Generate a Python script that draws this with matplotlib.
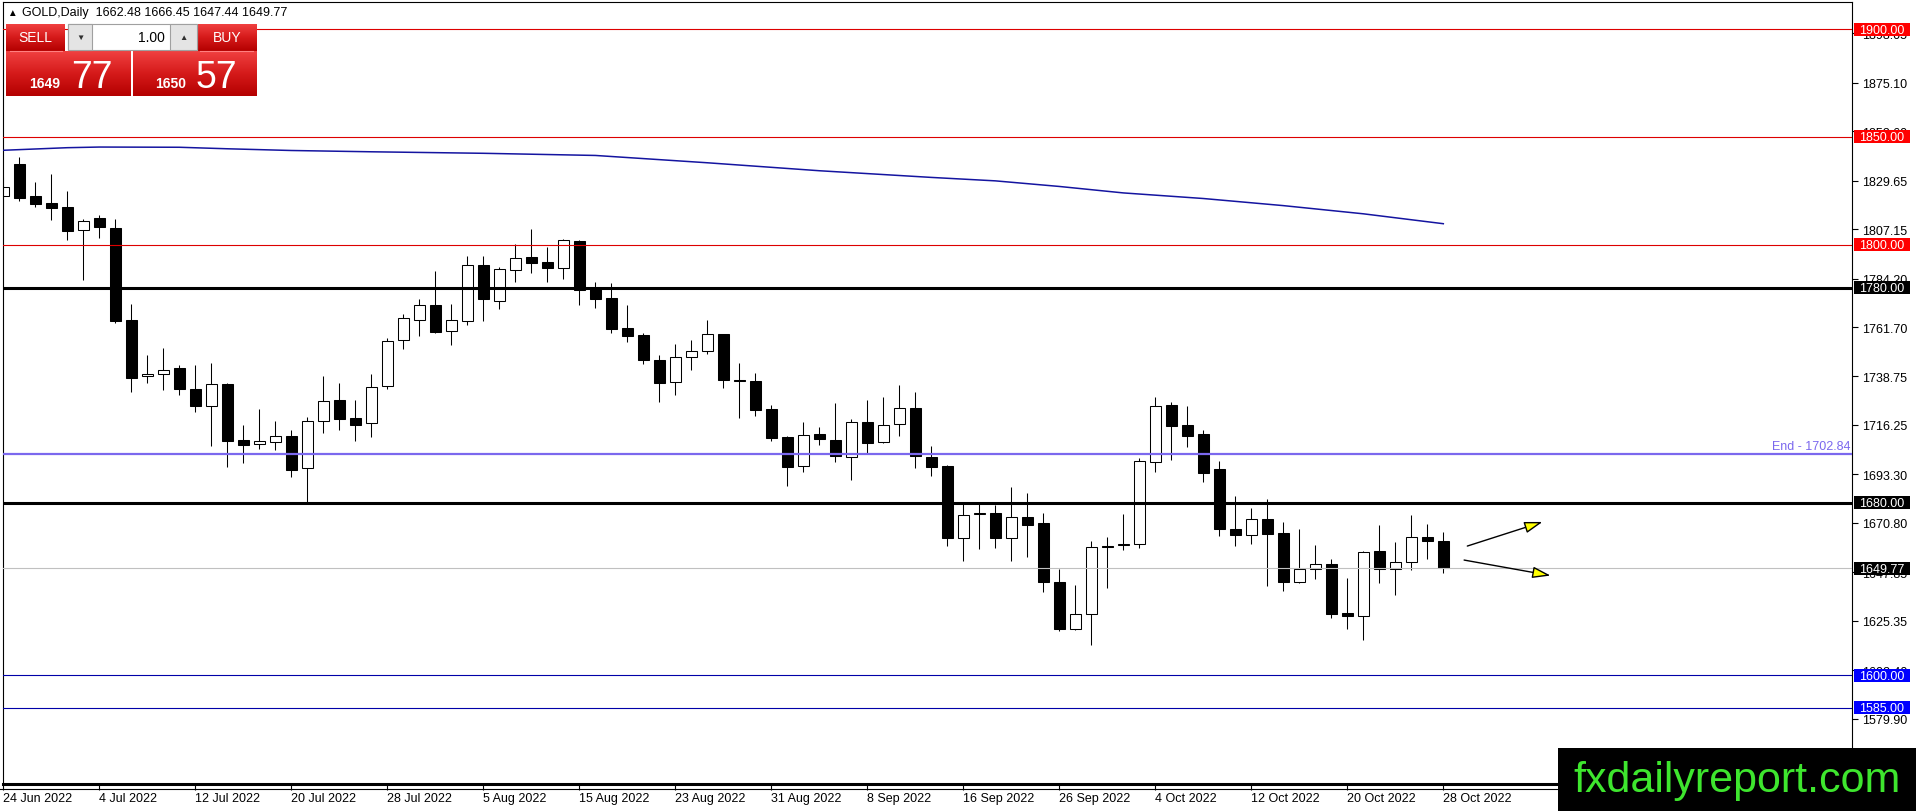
import numpy as np
import pandas as pd
import matplotlib.pyplot as plt
from matplotlib.patches import Rectangle
from matplotlib.colors import LinearSegmentedColormap
import matplotlib.transforms as mtransforms

plt.rcParams['font.family'] = ['Liberation Sans', 'DejaVu Sans']

# daily GOLD candles, 24 Jun 2022 .. 28 Oct 2022
dates = pd.bdate_range('2022-06-24', '2022-10-28')
opens = [1822.4, 1837.4, 1822.4, 1819.3, 1817.3, 1806.6, 1812.4, 1807.7, 1765.0, 1738.8,
         1739.7, 1742.7, 1733.1, 1725.2, 1735.2, 1709.2, 1707.2, 1708.4, 1711.1, 1696.1,
         1717.9, 1727.7, 1719.3, 1717.0, 1734.2, 1755.5, 1764.8, 1771.9, 1760.0, 1764.7,
         1790.5, 1774.0, 1788.4, 1794.2, 1791.9, 1789.3, 1801.7, 1779.4, 1775.2, 1761.4,
         1758.0, 1746.4, 1736.0, 1747.6, 1750.7, 1758.5, 1736.9, 1736.6, 1723.6, 1710.6,
         1697.0, 1711.9, 1709.2, 1701.2, 1717.4, 1708.2, 1716.5, 1724.1, 1701.2, 1697.3,
         1663.9, 1675.0, 1675.2, 1663.9, 1673.5, 1670.7, 1643.3, 1621.6, 1628.3, 1659.7,
         1660.4, 1660.8, 1698.9, 1725.5, 1716.1, 1711.9, 1695.8, 1667.7, 1665.3, 1672.4,
         1666.0, 1643.4, 1649.2, 1651.5, 1628.7, 1627.3, 1657.7, 1649.2, 1652.4, 1664.0,
         1662.48]
highs = [1831.2, 1840.5, 1828.9, 1832.8, 1824.7, 1811.9, 1813.6, 1811.9, 1772.4, 1748.7,
         1752.0, 1744.1, 1744.1, 1745.0, 1735.7, 1716.2, 1723.6, 1718.1, 1713.9, 1719.8,
         1739.1, 1735.7, 1727.8, 1739.9, 1756.6, 1767.8, 1774.7, 1787.9, 1772.4, 1794.9,
         1794.9, 1789.7, 1800.3, 1807.2, 1798.9, 1802.6, 1802.0, 1782.8, 1782.2, 1771.9,
         1758.9, 1748.7, 1753.8, 1755.7, 1765.0, 1758.5, 1745.0, 1740.4, 1725.6, 1711.2,
         1717.4, 1715.3, 1726.4, 1719.0, 1727.8, 1729.2, 1734.8, 1731.4, 1706.6, 1697.6,
         1680.0, 1680.0, 1679.0, 1687.6, 1684.6, 1675.3, 1649.3, 1641.9, 1662.2, 1664.0,
         1674.9, 1700.7, 1729.1, 1727.0, 1724.9, 1714.0, 1699.3, 1683.1, 1677.5, 1681.8,
         1671.0, 1667.9, 1660.5, 1654.0, 1645.1, 1657.7, 1669.8, 1662.0, 1674.4, 1670.2,
         1666.45]
lows = [1816.2, 1820.4, 1817.6, 1811.6, 1802.3, 1783.7, 1803.2, 1763.4, 1731.7, 1735.7,
        1732.6, 1730.3, 1722.4, 1706.6, 1696.9, 1698.4, 1705.0, 1704.7, 1691.9, 1680.3,
        1712.3, 1714.0, 1708.9, 1710.8, 1732.9, 1751.5, 1757.7, 1758.9, 1753.4, 1762.7,
        1764.7, 1770.1, 1782.8, 1787.0, 1782.8, 1784.0, 1771.9, 1770.6, 1759.1, 1754.9,
        1744.5, 1727.0, 1730.3, 1741.9, 1749.2, 1733.4, 1719.5, 1720.5, 1708.9, 1688.0,
        1694.2, 1707.1, 1699.2, 1690.8, 1703.2, 1708.0, 1711.2, 1696.4, 1692.7, 1659.8,
        1653.2, 1658.6, 1659.1, 1653.2, 1655.0, 1638.8, 1620.4, 1621.1, 1614.2, 1640.6,
        1658.3, 1658.9, 1694.5, 1699.8, 1706.1, 1689.9, 1664.8, 1660.2, 1660.8, 1641.6,
        1639.3, 1642.8, 1644.7, 1626.7, 1621.5, 1616.4, 1642.8, 1637.3, 1649.0, 1654.0,
        1647.44]
closes = [1826.6, 1821.8, 1819.0, 1817.1, 1806.5, 1810.8, 1808.3, 1764.7, 1738.2, 1739.8,
          1741.7, 1733.1, 1725.2, 1735.1, 1708.9, 1707.0, 1708.6, 1711.1, 1695.5, 1717.9,
          1727.2, 1719.0, 1716.4, 1733.7, 1755.1, 1765.9, 1771.8, 1759.6, 1765.0, 1790.5,
          1774.7, 1788.7, 1793.6, 1791.6, 1789.3, 1802.1, 1779.1, 1774.7, 1760.8, 1757.7,
          1746.4, 1735.9, 1747.6, 1750.4, 1758.5, 1737.3, 1736.6, 1723.3, 1710.3, 1696.8,
          1711.4, 1709.5, 1701.6, 1717.4, 1708.0, 1716.1, 1723.9, 1701.6, 1696.8, 1663.9,
          1674.2, 1675.2, 1663.9, 1673.3, 1669.9, 1643.4, 1621.6, 1628.3, 1659.4, 1659.5,
          1660.5, 1699.3, 1725.2, 1715.9, 1711.3, 1694.1, 1668.1, 1665.3, 1672.4, 1665.6,
          1643.5, 1649.3, 1651.5, 1628.4, 1627.3, 1657.2, 1649.2, 1652.4, 1664.0, 1662.5,
          1649.77]

# moving average (read at a few bars)
ma_idx = [0, 4, 6, 11, 14, 18, 23, 30, 37, 44, 51, 58, 62, 66, 70, 75, 80, 85, 90]
ma_val = [1843.8, 1845.0, 1845.3, 1845.2, 1844.5, 1843.7, 1843.1, 1842.4, 1841.4, 1838.0,
          1834.3, 1831.2, 1829.6, 1827.0, 1824.0, 1821.4, 1818.1, 1814.3, 1809.7]

red_levels = [1900, 1850, 1800]
black_levels = [1780, 1680]
blue_levels = [1600, 1585]
end_level = 1702.84
last_price = 1649.77

yticks = [1898.05, 1875.10, 1852.60, 1829.65, 1807.15, 1784.20, 1761.70, 1738.75,
          1716.25, 1693.30, 1670.80, 1647.85, 1625.35, 1602.40, 1579.90]
xtick_labels = ['24 Jun 2022', '4 Jul 2022', '12 Jul 2022', '20 Jul 2022', '28 Jul 2022',
                '5 Aug 2022', '15 Aug 2022', '23 Aug 2022', '31 Aug 2022', '8 Sep 2022',
                '16 Sep 2022', '26 Sep 2022', '4 Oct 2022', '12 Oct 2022', '20 Oct 2022',
                '28 Oct 2022']

arrow_up = [(91.5, 1660.0), (96.2, 1671.2)]
arrow_down = [(91.3, 1653.5), (96.7, 1646.3)]

W, H = 1916, 812
fig = plt.figure(figsize=(W / 100, H / 100), dpi=100, facecolor='white')
L, R, T, B = 2.7, 1852, 2.7, 785
ax = fig.add_axes([L / W, 1 - B / H, (R - L) / W, (B - T) / H])
ymin, ymax = 1549.5, 1912.8
x = np.arange(len(dates))

# candles
o = np.array(opens); c = np.array(closes)
ax.vlines(x, lows, highs, color='black', lw=0.75, zorder=2)
bull = c >= o
body = np.maximum(np.abs(c - o), 0.35)
ax.bar(x, body, bottom=np.minimum(o, c), width=0.66,
       color=np.where(bull, 'white', 'black'), edgecolor='black', lw=0.75, zorder=2)

# levels
for lv in red_levels:
    ax.axhline(lv, color='#dd0000', lw=0.8, zorder=3)
for lv in black_levels:
    ax.axhline(lv, color='black', lw=2.2, zorder=3)
for lv in blue_levels:
    ax.axhline(lv, color='#0000a8', lw=0.8, zorder=3)
ax.axhline(end_level, color='#7b68ee', lw=1.6, zorder=3)
ax.axhline(last_price, color='#c0c0c0', lw=0.8, zorder=3)
ax.plot(ma_idx, ma_val, color='#1414a0', lw=1.1, zorder=3)

trans = mtransforms.blended_transform_factory(ax.transAxes, ax.transData)
ax.text(0.999, end_level + 1.0, 'End - %.2f' % end_level, transform=trans,
        ha='right', va='bottom', color='#7b68ee', fontsize=9)

for a in (arrow_up, arrow_down):
    ax.annotate('', xy=a[1], xytext=a[0],
                arrowprops=dict(arrowstyle='-|>,head_length=1.1,head_width=0.35',
                                fc='yellow', ec='black', lw=1.0, mutation_scale=10,
                                shrinkA=0, shrinkB=0), zorder=4)

ax.set_xlim(-0.04, (R - 3.3) / 16)
ax.set_ylim(ymin, ymax)
ax.set_yticks(yticks)
ax.set_yticklabels(['%.2f' % v for v in yticks])
ax.yaxis.tick_right()
ax.tick_params(axis='y', direction='out', length=4, width=0.8, pad=3, labelsize=9)
date_str = [d.strftime('%d %b %Y').lstrip('0') for d in dates]
ax.set_xticks([date_str.index(s) for s in xtick_labels])
ax.set_xticklabels(xtick_labels, ha='left')
ax.tick_params(axis='x', direction='out', length=4, width=0.8, pad=2, labelsize=9)
for s in ['left', 'top', 'right']:
    ax.spines[s].set_linewidth(0.8)
ax.spines['bottom'].set_linewidth(2.2)

# overlay in pixel coords
ov = fig.add_axes([0, 0, 1, 1], zorder=5)
ov.axis('off')


def py(p):
    return T + (ymax - p) / (ymax - ymin) * (B - T)


ov.plot([0, 1558], [789.5, 789.5], color='black', lw=0.8)

lab_specs = [(lv, '#ff0000') for lv in red_levels] + [(lv, 'black') for lv in black_levels] \
    + [(last_price, 'black')] + [(lv, '#0000ff') for lv in blue_levels]
for lv, col in lab_specs:
    yy = py(lv)
    ov.add_patch(Rectangle((1854, yy - 6.5), 56, 13, fc=col, ec='none', zorder=6))
    ov.text(1882, yy + 0.5, '%.2f' % lv, color='white', fontsize=9, ha='center', va='center', zorder=7)

# trading panel
cm = LinearSegmentedColormap.from_list('btn', ['#f04040', '#d51a1a', '#b40000'])
grad = np.linspace(0, 1, 64).reshape(-1, 1)
for (x0, x1, y0, y1) in [(6, 131, 52, 97), (133, 257, 52, 97), (6, 65, 25, 52), (197, 257, 25, 52)]:
    ov.imshow(grad, extent=(x0, x1, y1, y0), cmap=cm, aspect='auto', zorder=6)
ov.add_patch(Rectangle((68, 25), 129, 26, fc='white', ec='#a0a0a0', lw=0.8, zorder=6))
ov.add_patch(Rectangle((68, 25), 24, 26, fc='#e4e4e4', ec='#a0a0a0', lw=0.8, zorder=6))
ov.add_patch(Rectangle((170, 25), 27, 26, fc='#e4e4e4', ec='#a0a0a0', lw=0.8, zorder=6))
ov.text(80, 38, '▼', fontsize=6, ha='center', va='center', color='#303030', zorder=7)
ov.text(183, 38, '▲', fontsize=6, ha='center', va='center', color='#303030', zorder=7)
ov.text(165, 38, '1.00', fontsize=10, ha='right', va='center', color='black', zorder=7)
ov.text(35, 38.5, 'SELL', fontsize=10, ha='center', va='center', color='white', zorder=7)
ov.text(227, 38.5, 'BUY', fontsize=10, ha='center', va='center', color='white', zorder=7)
ov.plot([10, 62], [51.5, 51.5], color='#ff8080', lw=0.8, zorder=7)
ov.plot([200, 253], [51.5, 51.5], color='#ff8080', lw=0.8, zorder=7)
ov.text(29, 88, '1649', fontsize=10, fontweight='bold', color='white', va='baseline', zorder=7)
ov.text(71, 88, '77', fontsize=27, color='white', va='baseline', zorder=7)
ov.text(155, 88, '1650', fontsize=10, fontweight='bold', color='white', va='baseline', zorder=7)
ov.text(196, 88, '57', fontsize=27, color='white', va='baseline', zorder=7)

ov.text(7, 13, '▲', fontsize=7, va='center', color='black', zorder=7)
ov.text(22, 13, 'GOLD,Daily  1662.48 1666.45 1647.44 1649.77', fontsize=9, va='center', zorder=7)

# watermark
ov.add_patch(Rectangle((1558, 749), 358, 63, fc='black', ec='none', zorder=8))
ov.text(1737, 781, 'fxdailyreport.com', color='#3ee62e', fontsize=31,
        ha='center', va='center', zorder=9)

ov.set_xlim(0, W)
ov.set_ylim(H, 0)

fig.savefig('out.png', dpi=100, facecolor='white')
